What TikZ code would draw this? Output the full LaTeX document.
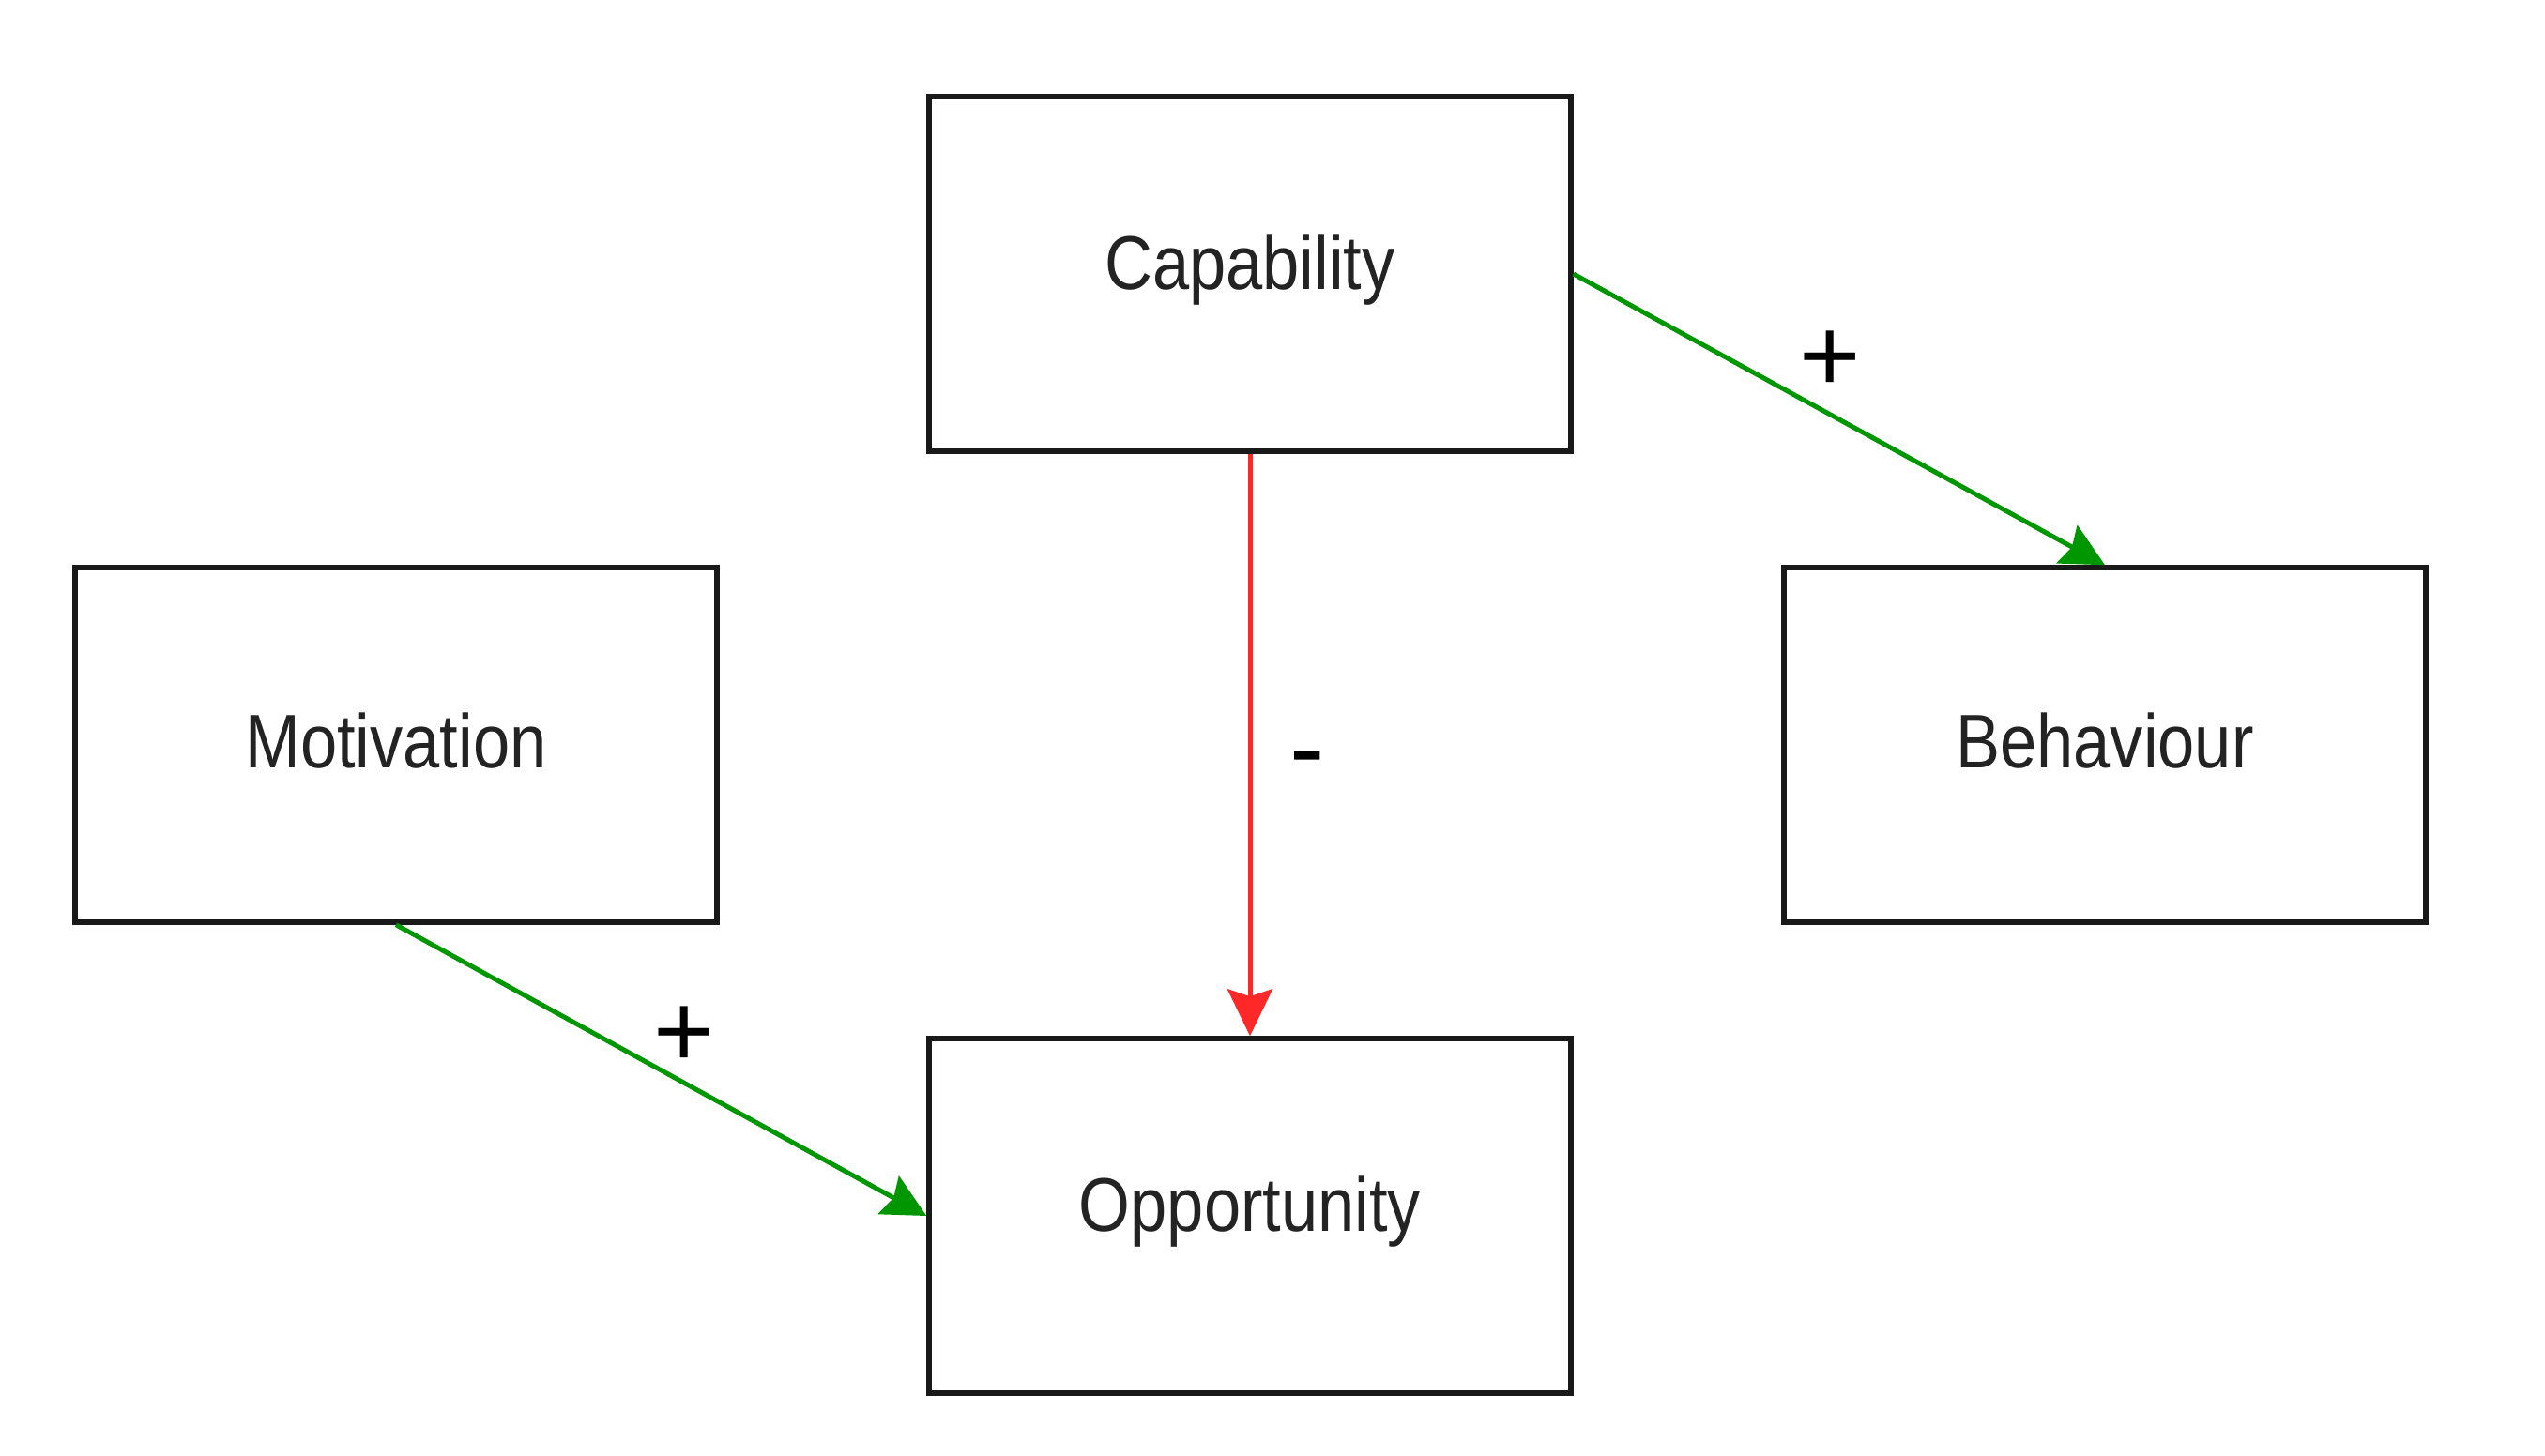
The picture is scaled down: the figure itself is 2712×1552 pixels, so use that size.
\documentclass[tikz,border=0pt]{standalone}
\usepackage{fontspec}
\newfontfamily\boxfont{Liberation Sans}[FakeStretch=0.87]
\newfontfamily\labfont{Liberation Sans}
\usetikzlibrary{arrows.meta}
\definecolor{arrgreen}{RGB}{0,150,0}
\definecolor{arrred}{RGB}{255,40,40}
\definecolor{txtgray}{RGB}{35,35,35}
\begin{document}
\begin{tikzpicture}[x=1pt,y=-1pt,
  box/.style={draw=black!90, line width=5.5pt, fill=white, minimum width=684pt, minimum height=378pt, inner sep=0pt},
  boxtext/.style={font=\boxfont\fontsize{81}{97}\selectfont, text=txtgray, inner sep=0pt},
  poslink/.style={draw=arrgreen, line width=5pt, -{Stealth[length=46pt,width=46pt,inset=6pt]}},
  neglink/.style={draw=arrred, line width=5pt, -{Stealth[length=50pt,width=48pt,inset=8pt]}},
  sign/.style={font=\labfont\fontsize{112}{120}\selectfont, text=black, inner sep=0pt}]
\useasboundingbox (0,0) rectangle (2712,1552);
\fill[white] (0,0) rectangle (2712,1552);
\node[box] (cap) at (1332,292) {};
\node[box] (mot) at (422,794) {};
\node[box] (beh) at (2243,794) {};
\node[box] (opp) at (1332,1296) {};
\node[boxtext] (capt) at ([yshift=4pt]cap.center) {Capability};
\node[boxtext] (mott) at ([yshift=4pt]mot.center) {Motivation};
\node[boxtext] (beht) at ([yshift=4pt]beh.center) {Behaviour};
\node[boxtext] (oppt) at ([yshift=4pt]opp.center) {Opportunity};
\draw[poslink] (cap.east) -- (beh.north);
\draw[poslink] (mot.south) -- (opp.west);
\draw[neglink] (cap.south) -- (opp.north);
\node[sign] (p1) at (1950,385) {+};
\node[sign] (p2) at (729,1105) {+};
\node[sign] (m1) at (1393,818) {-};
\end{tikzpicture}
\end{document}
